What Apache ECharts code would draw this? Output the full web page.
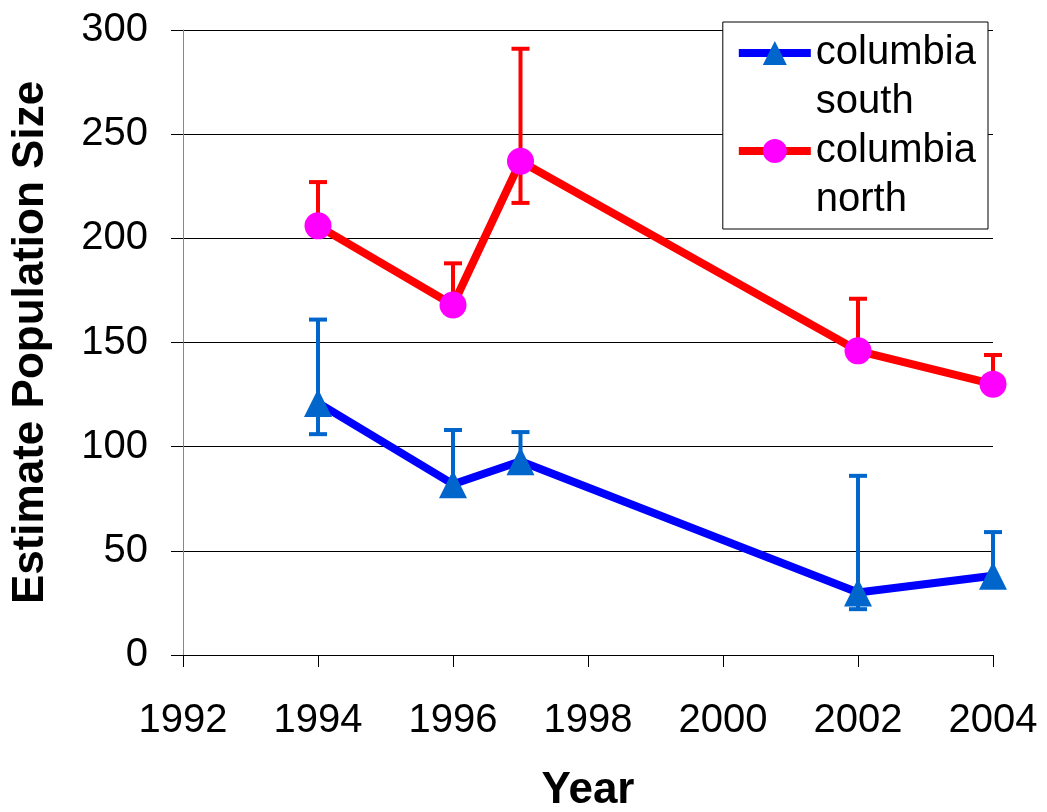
<!DOCTYPE html>
<html>
<head>
<meta charset="utf-8">
<script src="https://cdn.jsdelivr.net/npm/echarts@6/dist/echarts.min.js"></script>
<style>
  html, body { margin: 0; padding: 0; background: #fff; }
  #main { width: 1047px; height: 812px; }
</style>
</head>
<body>
<div id="main"></div>
<script>
var years = [1994, 1996, 1997, 2002, 2004];
var south = [121, 82, 93, 30, 38];
var southHigh = [161, 108, 107, 86, 59];
var southLow = [106, null, null, 22, null];
var north = [206, 168, 237, 146, 130];
var northHigh = [227, 188, 291, 171, 144];
var northLow = [null, null, 217, null, null];
var xTicks = [1992, 1994, 1996, 1998, 2000, 2002, 2004];
var yTicks = [0, 50, 100, 150, 200, 250, 300];
// legend text: first line goes with the icon, second line sits under it
var southName = 'columbia';
var northName = 'columbia ';

var myChart = echarts.init(document.getElementById('main'));

function pairs(vals) {
  return years.map(function (y, i) { return [y, vals[i]]; });
}
function errData(vals, hi, lo) {
  return years.map(function (y, i) { return [y, vals[i], hi[i], lo[i]]; });
}
function errRender(color) {
  return function (params, api) {
    var x = api.value(0);
    var mid = api.coord([x, api.value(1)]);
    var children = [];
    var cap = 9;
    var hiV = api.value(2);
    var loV = api.value(3);
    var st = { stroke: color, lineWidth: 4 };
    if (!isNaN(hiV) && hiV !== null) {
      var hi = api.coord([x, hiV]);
      children.push({ type: 'line', shape: { x1: mid[0], y1: mid[1], x2: hi[0], y2: hi[1] }, style: st });
      children.push({ type: 'line', shape: { x1: hi[0] - cap, y1: hi[1], x2: hi[0] + cap, y2: hi[1] }, style: st });
    }
    if (!isNaN(loV) && loV !== null) {
      var lo = api.coord([x, loV]);
      children.push({ type: 'line', shape: { x1: mid[0], y1: mid[1], x2: lo[0], y2: lo[1] }, style: st });
      children.push({ type: 'line', shape: { x1: lo[0] - cap, y1: lo[1], x2: lo[0] + cap, y2: lo[1] }, style: st });
    }
    return { type: 'group', children: children };
  };
}

var option = {
  animation: false,
  textStyle: { fontFamily: 'Liberation Sans, Arial, sans-serif' },
  grid: { left: 183, right: 54, top: 30, bottom: 157, outerBoundsMode: 'none' },
  legend: {
    right: 59,
    top: 22,
    orient: 'vertical',
    backgroundColor: '#fff',
    borderColor: '#000',
    borderWidth: 1,
    padding: [8, 1, 6, 12],
    itemWidth: 72,
    itemHeight: 30,
    itemGap: 3,
    lineStyle: { width: 8 },
    textStyle: { fontSize: 40, color: '#000', lineHeight: 46 },
    data: [
      { name: southName },
      { name: 'south', icon: 'none' },
      { name: northName },
      { name: 'north', icon: 'none' }
    ]
  },
  xAxis: {
    type: 'value',
    min: 1992,
    max: 2004,
    interval: 2,
    name: 'Year',
    nameLocation: 'middle',
    nameGap: 114,
    nameTextStyle: { fontSize: 44, fontWeight: 'bold', color: '#000' },
    axisLine: { lineStyle: { color: '#000', width: 1 } },
    axisTick: { show: true, length: 12, inside: false, lineStyle: { color: '#000' } },
    axisLabel: { fontSize: 40, color: '#000', margin: 46, formatter: function (v) { return String(v); } },
    splitLine: { show: false }
  },
  yAxis: {
    type: 'value',
    min: 0,
    max: 300,
    interval: 50,
    name: 'Estimate Population Size',
    nameLocation: 'middle',
    nameGap: 130,
    nameTextStyle: { fontSize: 44, fontWeight: 'bold', color: '#000' },
    axisLine: { show: true, lineStyle: { color: '#888', width: 1 } },
    axisTick: { show: true, length: 12, lineStyle: { color: '#000' } },
    axisLabel: { fontSize: 40, color: '#000', margin: 35 },
    splitLine: { show: true, lineStyle: { color: '#000', width: 1 } }
  },
  series: [
    {
      type: 'custom',
      renderItem: errRender('#0066CC'),
      data: errData(south, southHigh, southLow),
      encode: { x: 0, y: 1 },
      z: 1,
      silent: true
    },
    {
      type: 'custom',
      renderItem: errRender('#FF0000'),
      data: errData(north, northHigh, northLow),
      encode: { x: 0, y: 1 },
      z: 1,
      silent: true
    },
    {
      name: southName,
      type: 'line',
      data: pairs(south),
      symbol: 'triangle',
      symbolSize: 28,
      lineStyle: { color: '#0000FF', width: 8 },
      itemStyle: { color: '#0066CC' },
      z: 3
    },
    {
      name: northName,
      type: 'line',
      data: pairs(north),
      symbol: 'circle',
      symbolSize: 27,
      lineStyle: { color: '#FF0000', width: 8 },
      itemStyle: { color: '#FF00FF' },
      z: 3
    },
    // empty series carrying the second legend line of each entry
    { name: 'south', type: 'scatter', data: [] },
    { name: 'north', type: 'scatter', data: [] }
  ]
};
myChart.setOption(option);
</script>
</body>
</html>
